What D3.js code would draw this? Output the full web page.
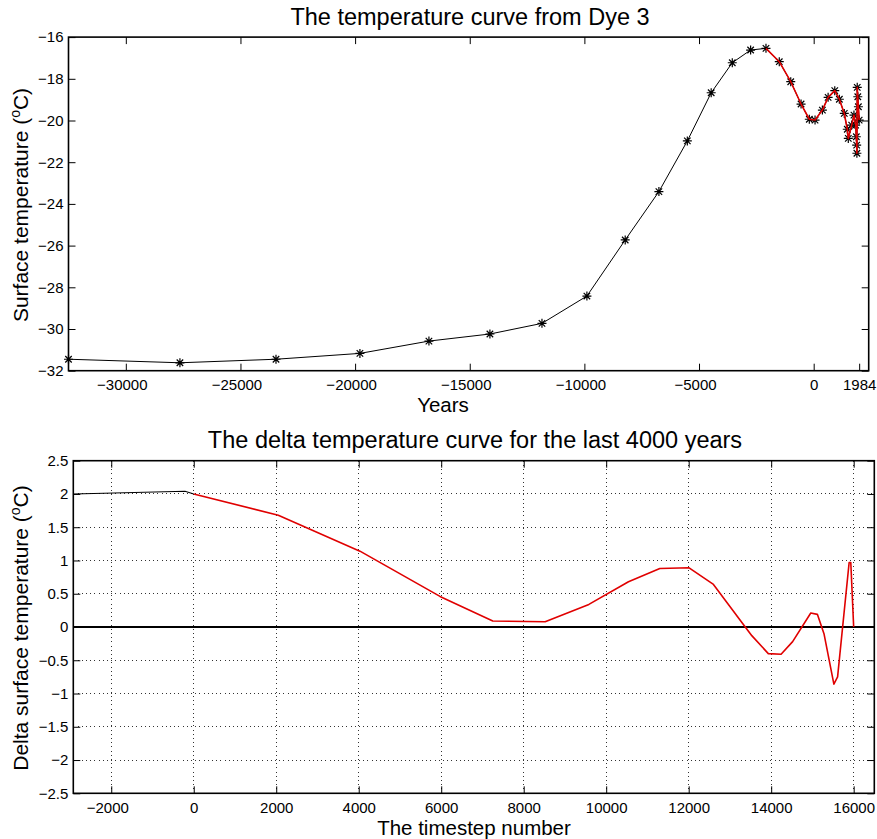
<!DOCTYPE html>
<html>
<head>
<meta charset="utf-8">
<script src="https://cdn.jsdelivr.net/npm/d3@7"></script>
<style>
  body { margin: 0; background: #fff; }
  text { font-family: "Liberation Sans", Arial, Helvetica, sans-serif; fill: #000; }
</style>
</head>
<body>
<svg id="chart" width="877" height="839"></svg>
<script>
// Dye 3 borehole surface temperature history (calendar year, °C)
const coreYears = [-32500, -27640, -23450, -19790, -16780, -14120, -11850, -9890, -8220, -6750,
  -5510, -4470, -3550, -2750, -2080, -1500, -1000, -550, -190, 60, 380, 630, 920, 1120, 1335,
  1466, 1510, 1657, 1757, 1831, 1860, 1875, 1885, 1900, 1925, 1950, 1984];
const coreTemps = [-31.45, -31.62, -31.45, -31.17, -30.58, -30.24, -29.73, -28.42, -25.73, -23.41,
  -20.98, -18.67, -17.23, -16.62, -16.54, -17.18, -18.14, -19.21, -19.94, -19.98, -19.50, -18.89,
  -18.57, -18.98, -19.66, -20.42, -20.86, -20.22, -19.74, -20.22, -20.78, -21.18, -21.57, -18.41,
  -18.86, -19.34, -19.98];
// first year of the 4000-year window, drawn in red
const windowStart = -2080;
const yearTicks = [-30000, -25000, -20000, -15000, -10000, -5000, 0, 1984];
const tempTicks = [-32, -30, -28, -26, -24, -22, -20, -18, -16];

// Delta surface temperature against model timestep
const leadSteps = [-2920, -210, 0];
const leadDeltas = [2.0, 2.04, 2.0];
const steps = [0, 2050, 4030, 5970, 7250, 8520, 9580, 10540, 11300, 12010, 12600, 13530, 13930,
  14240, 14520, 14960, 15120, 15280, 15520, 15610, 15890, 15930, 16000];
const deltas = [2.0, 1.68, 1.14, 0.46, 0.09, 0.08, 0.34, 0.68, 0.88, 0.89, 0.64, -0.13, -0.40,
  -0.41, -0.22, 0.21, 0.19, -0.10, -0.86, -0.75, 0.97, 0.97, 0.0];
const stepTicks = [-2000, 0, 2000, 4000, 6000, 8000, 10000, 12000, 14000, 16000];
const deltaTicks = [-2.5, -2, -1.5, -1, -0.5, 0, 0.5, 1, 1.5, 2, 2.5];

const svg = d3.select("#chart");
const fmt = d => (d < 0 ? "\u2212" : "") + Math.abs(d);
const TICK = 7;

// eight-armed star marker (plus + cross)
const asterisk = {
  draw(ctx, size) {
    const r = Math.sqrt(size) / 2;
    const q = r * 0.72;
    ctx.moveTo(-r, 0); ctx.lineTo(r, 0);
    ctx.moveTo(0, -r); ctx.lineTo(0, r);
    ctx.moveTo(-q, -q); ctx.lineTo(q, q);
    ctx.moveTo(-q, q); ctx.lineTo(q, -q);
  }
};

function frame(g, x, y, xTicks, yTicks, xFmt, opts) {
  const [x0, x1] = x.range();
  const [y0, y1] = y.range(); // y0 bottom, y1 top
  const w = x1 - x0, h = y0 - y1;

  if (opts.grid) {
    const grid = g.append("g").attr("class", "grid");
    grid.selectAll("line.gx").data(xTicks).join("line")
      .attr("x1", d => x(d)).attr("x2", d => x(d))
      .attr("y1", y1).attr("y2", y0);
    grid.selectAll("line.gy").data(yTicks).join("line")
      .attr("x1", x0).attr("x2", x1)
      .attr("y1", d => y(d)).attr("y2", d => y(d));
    grid.selectAll("line").attr("stroke", "#333").attr("stroke-width", 1)
      .attr("stroke-dasharray", "1,3.2").attr("shape-rendering", "crispEdges");
  }

  const bottom = g.append("g").attr("transform", `translate(0,${y0})`)
    .call(d3.axisBottom(x).tickValues(xTicks).tickSizeInner(-TICK).tickSizeOuter(0)
      .tickPadding(opts.xPad).tickFormat(xFmt));
  const top = g.append("g").attr("transform", `translate(0,${y1})`)
    .call(d3.axisTop(x).tickValues(xTicks).tickSizeInner(-TICK).tickSizeOuter(0).tickFormat(""));
  const left = g.append("g").attr("transform", `translate(${x0},0)`)
    .call(d3.axisLeft(y).tickValues(yTicks).tickSizeInner(-TICK).tickSizeOuter(0)
      .tickPadding(opts.yPad).tickFormat(fmt));
  const right = g.append("g").attr("transform", `translate(${x1},0)`)
    .call(d3.axisRight(y).tickValues(yTicks).tickSizeInner(-TICK).tickSizeOuter(0).tickFormat(""));

  [bottom, top, left, right].forEach(a => {
    a.select(".domain").remove();
    a.selectAll(".tick line").attr("stroke", "#000").attr("stroke-width", 1);
    a.selectAll("text").attr("font-size", 15).attr("fill", "#000")
      .style("font-family", '"Liberation Sans", Arial, sans-serif');
  });
  // negative year labels sit a little left of their tick
  bottom.selectAll(".tick text").attr("dx", d => (d < 0 ? -4 : 0));
  return { x0, x1, y0, y1, w, h };
}

function box(g, f) {
  g.append("rect").attr("x", f.x0).attr("y", f.y1).attr("width", f.w).attr("height", f.h)
    .attr("fill", "none").attr("stroke", "#000").attr("stroke-width", 1.6);
}

function ylabelDeg(g, cx, cy, label) {
  const t = g.append("text").attr("transform", `translate(${cx},${cy}) rotate(-90)`)
    .attr("text-anchor", "middle").attr("font-size", 21);
  t.append("tspan").text(label + " (");
  t.append("tspan").attr("font-size", 14).attr("dy", -8).text("o");
  t.append("tspan").attr("dy", 8).text("C)");
}

// ---------- Panel 1: temperature curve ----------
{
  const x = d3.scaleLinear().domain([-32500, 2400]).range([68.5, 868.7]);
  const y = d3.scaleLinear().domain([-32, -16]).range([370.7, 37.1]);
  const g = svg.append("g");
  const f = frame(g, x, y, yearTicks, tempTicks, d3.format("d"), { xPad: 9, yPad: 5 });

  const pts = coreYears.map((yr, i) => [yr, coreTemps[i]]);
  const line = d3.line().x(d => x(d[0])).y(d => y(d[1]));

  g.append("path").datum(pts).attr("d", line)
    .attr("fill", "none").attr("stroke", "#000").attr("stroke-width", 1);

  g.selectAll("path.mark").data(pts).join("path").attr("class", "mark")
    .attr("transform", d => `translate(${x(d[0])},${y(d[1])})`)
    .attr("d", d3.symbol().type(asterisk).size(81))
    .attr("fill", "none").attr("stroke", "#000").attr("stroke-width", 1.2);

  g.append("path").datum(pts.filter(d => d[0] >= windowStart)).attr("d", line)
    .attr("fill", "none").attr("stroke", "#e00000").attr("stroke-width", 1.6)
    .attr("stroke-linejoin", "round");

  box(g, f);

  svg.append("text").attr("x", 470).attr("y", 25).attr("text-anchor", "middle")
    .attr("font-size", 23.5).text("The temperature curve from Dye 3");
  svg.append("text").attr("x", 443).attr("y", 412).attr("text-anchor", "middle")
    .attr("font-size", 20.5).text("Years");
  ylabelDeg(svg, 28, 205, "Surface temperature");
}

// ---------- Panel 2: delta temperature ----------
{
  const x = d3.scaleLinear().domain([-2920, 16500]).range([73.3, 874.3]);
  const y = d3.scaleLinear().domain([-2.5, 2.5]).range([793.3, 460.7]);
  const g = svg.append("g");
  const f = frame(g, x, y, stepTicks, deltaTicks, d3.format("d"), { xPad: 9, yPad: 5, grid: true });

  // zero reference line
  g.append("line").attr("x1", f.x0).attr("x2", f.x1).attr("y1", y(0)).attr("y2", y(0))
    .attr("stroke", "#000").attr("stroke-width", 2.2);

  const line = d3.line().x(d => x(d[0])).y(d => y(d[1]));
  g.append("path").datum(leadSteps.map((s, i) => [s, leadDeltas[i]])).attr("d", line)
    .attr("fill", "none").attr("stroke", "#000").attr("stroke-width", 1.1);
  g.append("path").datum(steps.map((s, i) => [s, deltas[i]])).attr("d", line)
    .attr("fill", "none").attr("stroke", "#e00000").attr("stroke-width", 1.6)
    .attr("stroke-linejoin", "round");

  box(g, f);

  svg.append("text").attr("x", 475).attr("y", 448).attr("text-anchor", "middle")
    .attr("font-size", 23.5).text("The delta temperature curve for the last 4000 years");
  svg.append("text").attr("x", 474).attr("y", 835).attr("text-anchor", "middle")
    .attr("font-size", 20.5).text("The timestep number");
  ylabelDeg(svg, 28, 628, "Delta surface temperature");
}
</script>
</body>
</html>
